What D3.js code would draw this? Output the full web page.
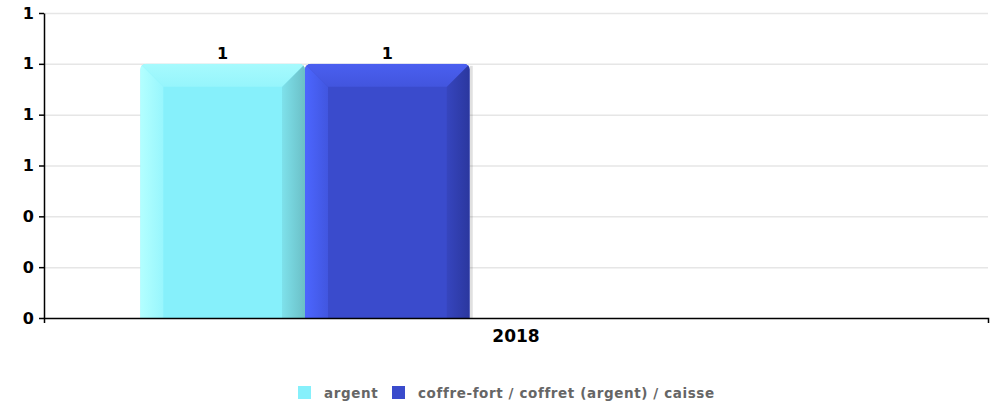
<!DOCTYPE html>
<html>
<head>
<meta charset="utf-8">
<script src="https://cdn.jsdelivr.net/npm/d3@7"></script>
<style>
  body { margin: 0; background: #fff; }
  text { font-family: "DejaVu Sans", sans-serif; font-weight: bold; }
  .grid line { stroke: #e6e6e6; stroke-width: 1.5; }
  .grid path { display: none; }
</style>
</head>
<body>
<svg id="chart"></svg>
<script>
// Data
const categories = ['2018'];
const seriesNames = ['argent', 'coffre-fort / coffret (argent) / caisse'];
const argentValues = [1];
const coffreValues = [1];
const yTicks = [0, 0.2, 0.4, 0.6, 0.8, 1.0, 1.2];

// Colours per series: main face, light bevel, top bevel, dark bevel
const palette = {
  'argent': {main: '#86f0fb', light: '#b3ffff', top: '#a6fafd', dark: '#6bbfc6'},
  'coffre-fort / coffret (argent) / caisse': {main: '#3a4bcc', light: '#4c66ff', top: '#4a5ff0', dark: '#2b379e'}
};

const config = {
  width: 998,
  height: 404,
  margin: {top: 13, right: 10, bottom: 86, left: 44},
  bevel: 23
};

const data = categories.map((c, i) => ({
  category: c,
  values: [
    {series: seriesNames[0], value: argentValues[i]},
    {series: seriesNames[1], value: coffreValues[i]}
  ]
}));

const innerW = config.width - config.margin.left - config.margin.right;
const innerH = config.height - config.margin.top - config.margin.bottom;

const svg = d3.select('#chart')
    .attr('width', config.width)
    .attr('height', config.height);

const defs = svg.append('defs');

const chart = svg.append('g')
    .attr('transform', `translate(${config.margin.left},${config.margin.top})`);

// Scales
const x0 = d3.scaleBand().domain(categories).range([0, innerW]);
const bw = x0.bandwidth();
const x1 = d3.scaleBand().domain(seriesNames).range([bw * 0.102, bw * 0.451]);
const y = d3.scaleLinear().domain([0, 1.2]).range([innerH, 0]);

// Gridlines
chart.append('g')
    .attr('class', 'grid')
    .call(d3.axisLeft(y).tickValues(yTicks.slice(1)).tickSize(-innerW).tickFormat(''));

// Gradients for the bevels
seriesNames.forEach((s, i) => {
  const p = palette[s];
  const gl = defs.append('linearGradient').attr('id', `gl${i}`).attr('x1', 0).attr('x2', 1).attr('y1', 0).attr('y2', 0);
  gl.append('stop').attr('offset', '0%').attr('stop-color', p.light);
  gl.append('stop').attr('offset', '100%').attr('stop-color', d3.interpolateRgb(p.light, p.main)(0.6));
  const gr = defs.append('linearGradient').attr('id', `gr${i}`).attr('x1', 0).attr('x2', 1).attr('y1', 0).attr('y2', 0);
  gr.append('stop').attr('offset', '0%').attr('stop-color', d3.interpolateRgb(p.main, p.dark)(0.3));
  gr.append('stop').attr('offset', '100%').attr('stop-color', p.dark);
  const gt = defs.append('linearGradient').attr('id', `gt${i}`).attr('x1', 0).attr('x2', 0).attr('y1', 0).attr('y2', 1);
  gt.append('stop').attr('offset', '0%').attr('stop-color', p.top);
  gt.append('stop').attr('offset', '100%').attr('stop-color', d3.interpolateRgb(p.top, p.main)(0.5));
});

// Bars
const groups = chart.selectAll('.cat')
  .data(data)
  .join('g')
    .attr('class', 'cat')
    .attr('transform', d => `translate(${x0(d.category)},0)`);

const bars = groups.selectAll('.bar')
  .data(d => d.values)
  .join('g')
    .attr('class', 'bar');

bars.each(function(d) {
  const g = d3.select(this);
  const i = seriesNames.indexOf(d.series);
  const p = palette[d.series];
  const xa = x1(d.series);
  const xb = xa + x1.bandwidth();
  const t = y(d.value);
  const b = y(0);
  const bv = config.bevel;
  const clipId = `clip-${i}`;

  defs.append('clipPath').attr('id', clipId)
    .append('rect')
      .attr('x', xa + config.margin.left).attr('y', t + config.margin.top)
      .attr('width', xb - xa).attr('height', (b - t) + 8)
      .attr('rx', 6);

  // soft shadow on the right
  g.append('rect')
      .attr('x', xb).attr('y', t + 2)
      .attr('width', 3).attr('height', b - t - 2)
      .attr('fill', '#000').attr('opacity', 0.12);

  const face = g.append('g')
      .attr('clip-path', `url(#${clipId})`)
      .attr('transform', `translate(${-config.margin.left},${-config.margin.top})`)
    .append('g')
      .attr('transform', `translate(${config.margin.left},${config.margin.top})`);

  face.append('rect')
      .attr('x', xa).attr('y', t)
      .attr('width', xb - xa).attr('height', b - t)
      .attr('fill', p.main);

  face.append('polygon')
      .attr('points', [[xa, t], [xa + bv, t + bv], [xa + bv, b], [xa, b]].join(' '))
      .attr('fill', `url(#gl${i})`);

  face.append('polygon')
      .attr('points', [[xb, t], [xb, b], [xb - bv, b], [xb - bv, t + bv]].join(' '))
      .attr('fill', `url(#gr${i})`);

  face.append('polygon')
      .attr('points', [[xa, t], [xb, t], [xb - bv, t + bv], [xa + bv, t + bv]].join(' '))
      .attr('fill', `url(#gt${i})`);

  // value label
  g.append('text')
      .attr('x', (xa + xb) / 2)
      .attr('y', t - 5)
      .attr('text-anchor', 'middle')
      .attr('font-size', 16)
      .attr('fill', '#000')
      .text(d3.format('.0f')(d.value));
});

// Axes
const yAxisG = chart.append('g')
    .call(d3.axisLeft(y).tickValues(yTicks).tickSizeInner(5).tickSizeOuter(0).tickFormat(d3.format('.0f')));
yAxisG.select('.domain').attr('stroke', '#000').attr('stroke-width', 1.5);
yAxisG.selectAll('.tick line').attr('stroke', '#000').attr('stroke-width', 1.5);
yAxisG.selectAll('.tick text').attr('font-size', 16).attr('fill', '#000').attr('x', -10);

const xAxisG = chart.append('g')
    .attr('transform', `translate(0,${innerH})`)
    .call(d3.axisBottom(x0).tickSizeInner(0).tickSizeOuter(5).tickPadding(10));
xAxisG.select('.domain').attr('stroke', '#000').attr('stroke-width', 1.5);
xAxisG.selectAll('.tick text').attr('font-size', 17).attr('fill', '#000').attr('dy', '0.85em');

// Legend
const legend = svg.append('g')
    .attr('transform', 'translate(298,386)');
const legendX = [0, 94];
seriesNames.forEach((s, i) => {
  const item = legend.append('g').attr('transform', `translate(${legendX[i]},0)`);
  item.append('rect')
      .attr('width', 13).attr('height', 13)
      .attr('fill', palette[s].main);
  item.append('text')
      .attr('x', 26).attr('y', 11.5)
      .attr('font-size', 13.5)
      .attr('letter-spacing', 0.6)
      .attr('fill', '#666')
      .text(s);
});
</script>
</body>
</html>
